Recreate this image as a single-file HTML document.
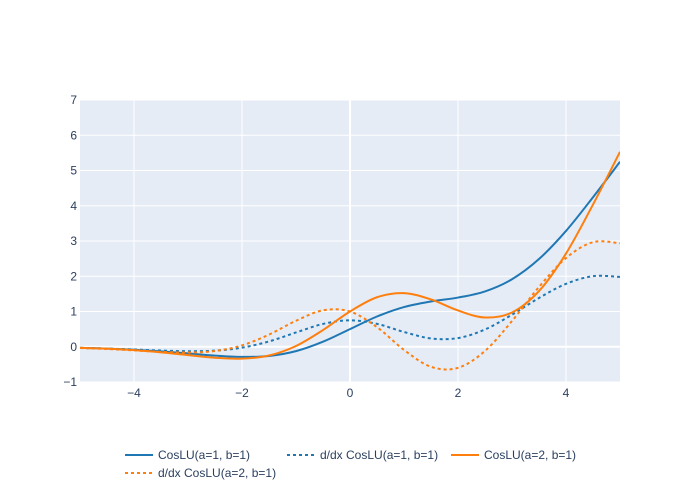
<!DOCTYPE html>
<html><head><meta charset="utf-8">
<style>
html,body{margin:0;padding:0;background:#fff;}
svg{display:block;font-family:"Liberation Sans",sans-serif;}
</style></head>
<body>
<svg id="chart" width="700" height="500">
  <rect x="80" y="100" width="540" height="282" fill="#e5ecf6"/>
  <g id="grid"></g>
  <g id="series"></g>
  <g id="xticks"></g>
  <g id="yticks"></g>
  <g id="legend"></g>
</svg>
<script>
const xs = [-5,-4.5,-4,-3.5,-3,-2.5,-2,-1.5,-1,-0.5,0,0.5,1,1.5,2,2.5,3,3.5,4,4.5,5];
const coslu11 = [-0.032,-0.052,-0.084,-0.130,-0.189,-0.250,-0.288,-0.261,-0.124,0.143,0.5,0.858,1.126,1.284,1.395,1.570,1.915,2.488,3.286,4.242,5.248];
const dcoslu11 = [-0.031,-0.051,-0.078,-0.107,-0.126,-0.110,-0.026,0.151,0.405,0.647,0.75,0.648,0.419,0.236,0.246,0.490,0.909,1.384,1.784,2.002,1.981];
const coslu21 = [-0.030,-0.054,-0.096,-0.158,-0.236,-0.311,-0.338,-0.248,0.022,0.474,1.0,1.404,1.521,1.342,1.029,0.830,0.972,1.579,2.644,4.034,5.530];
const dcoslu21 = [-0.036,-0.064,-0.103,-0.144,-0.164,-0.121,0.039,0.344,0.737,1.034,1.0,0.556,-0.090,-0.569,-0.598,-0.119,0.730,1.698,2.516,2.967,2.935];
const xTicks = [-4,-2,0,2,4];
const yTicks = [-1,0,1,2,3,4,5,6,7];
const seriesNames = ["CosLU(a=1, b=1)","d/dx CosLU(a=1, b=1)","CosLU(a=2, b=1)","d/dx CosLU(a=2, b=1)"];

const NS="http://www.w3.org/2000/svg";
const X0=80,X1=620,Y0=382,Y1=100,xmin=-5,xmax=5,ymin=-1,ymax=7;
const sx=v=>X0+(v-xmin)/(xmax-xmin)*(X1-X0);
const sy=v=>Y0-(v-ymin)/(ymax-ymin)*(Y0-Y1);
function mk(tag,attrs,parent){const e=document.createElementNS(NS,tag);for(const k in attrs)e.setAttribute(k,attrs[k]);parent.appendChild(e);return e;}
const grid=document.getElementById('grid'),xt=document.getElementById('xticks'),yt=document.getElementById('yticks');
const fmt=v=>v<0?'\u2212'+Math.abs(v):String(v);
xTicks.forEach(v=>{
  const l=mk('line',{x1:sx(v),x2:sx(v),y1:Y1,y2:Y0,stroke:'#fff','stroke-width':v===0?2:1},grid);
  
  
  const t=mk('text',{x:sx(v),y:397,'text-anchor':'middle','font-size':12,fill:'#2a3f5f'},xt);
  t.textContent=fmt(v);
  
  
});
yTicks.forEach(v=>{
  const l=mk('line',{x1:X0,x2:X1,y1:sy(v),y2:sy(v),stroke:'#fff','stroke-width':v===0?2:1},grid);
  
  
  const t=mk('text',{x:77,y:sy(v)+4,'text-anchor':'end','font-size':12,fill:'#2a3f5f'},yt);
  t.textContent=fmt(v);
  
  
});
function pathD(ys){
  const p=xs.map((x,i)=>[sx(x),sy(ys[i])]);
  let d='M'+p[0][0]+','+p[0][1];
  for(let i=0;i<p.length-1;i++){
    const a=p[Math.max(i-1,0)],b=p[i],c=p[i+1],e=p[Math.min(i+2,p.length-1)];
    const c1=[b[0]+(c[0]-a[0])/6,b[1]+(c[1]-a[1])/6],c2=[c[0]-(e[0]-b[0])/6,c[1]-(e[1]-b[1])/6];
    d+=' C'+c1+' '+c2+' '+c;
  }
  return d;
}
const sg=document.getElementById('series');
const styles=[['#1f77b4',''],['#1f77b4','3,3'],['#ff7f0e',''],['#ff7f0e','3,3']];
const data=[coslu11,dcoslu11,coslu21,dcoslu21];
const snames=['coslu-a1-line','dcoslu-a1-line','coslu-a2-line','dcoslu-a2-line'];
const clip=mk('clipPath',{id:'clp'},sg);mk('rect',{x:X0,y:Y1,width:X1-X0,height:Y0-Y1},clip);
data.forEach((ys,i)=>{
  const p=mk('path',{d:pathD(ys),fill:'none',stroke:styles[i][0],'stroke-width':2,'stroke-dasharray':styles[i][1],'clip-path':'url(#clp)'},sg);
  
  
});
const lg=document.getElementById('legend');
const pos=[[125,455],[287,455],[451,455],[125,473]];
seriesNames.forEach((n,i)=>{
  const g=mk('g',{},lg);
  
  
  mk('line',{x1:pos[i][0],x2:pos[i][0]+28,y1:pos[i][1],y2:pos[i][1],stroke:styles[i][0],'stroke-width':2,'stroke-dasharray':styles[i][1]},g);
  const t=mk('text',{x:pos[i][0]+33,y:pos[i][1]+4,'font-size':12,fill:'#2a3f5f'},g);
  t.textContent=n;
});
</script>
</body></html>
